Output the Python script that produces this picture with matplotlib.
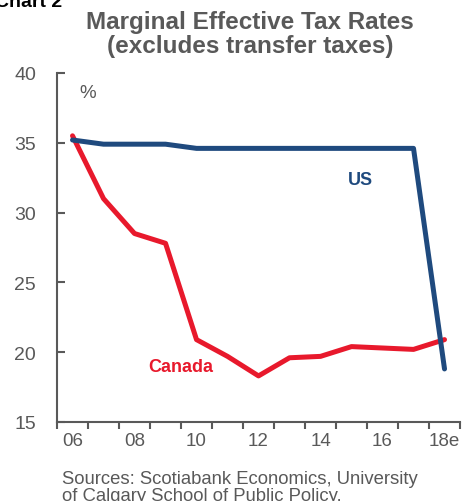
import matplotlib

matplotlib.use("Agg")
import matplotlib.pyplot as plt
import numpy as np

# Marginal effective tax rates, 2006-2018e (%)
years = ["06", "07", "08", "09", "10", "11", "12", "13", "14", "15", "16", "17", "18e"]
canada = [35.5, 31.0, 28.5, 27.8, 20.9, 19.7, 18.3, 19.6, 19.7, 20.4, 20.3, 20.2, 20.9]
us = [35.2, 34.9, 34.9, 34.9, 34.6, 34.6, 34.6, 34.6, 34.6, 34.6, 34.6, 34.6, 18.8]

RED = "#E8192C"
NAVY = "#1F4A7E"
GREY = "#595959"

plt.rcParams["font.family"] = ["Liberation Sans", "DejaVu Sans"]

fig = plt.figure(figsize=(4.74, 5.02), dpi=100)
ax = fig.add_axes([0.1203, 0.1574, 0.8502, 0.6952])

x = np.arange(len(years))
ax.plot(x, canada, color=RED, lw=3.6, solid_capstyle="round", solid_joinstyle="round")
ax.plot(x, us, color=NAVY, lw=3.6, solid_capstyle="round", solid_joinstyle="round")

ax.set_xlim(-0.5, len(years) - 0.5)
ax.set_ylim(15, 40)

# category axis: tick marks on the boundaries, labels on every other year
ax.set_xticks(np.arange(-0.5, len(years)), minor=True)
ax.set_xticks(x[::2])
ax.set_xticklabels(years[::2])
ax.tick_params(axis="x", which="major", length=0, pad=7, labelsize=13.5, labelcolor=GREY)
ax.tick_params(axis="x", which="minor", direction="out", length=5, width=1.5, color=GREY)
ax.set_yticks(np.arange(15, 41, 5))
ax.tick_params(axis="y", direction="in", length=6, width=1.5, color=GREY,
               labelsize=14, labelcolor=GREY, pad=15)

for side in ("top", "right"):
    ax.spines[side].set_visible(False)
for side in ("left", "bottom"):
    ax.spines[side].set_color(GREY)
    ax.spines[side].set_linewidth(1.5)

ax.text(0.5, 38.6, "%", fontsize=13.5, color=GREY, ha="center", va="center")
ax.text(9.3, 32.4, "US", fontsize=13, fontweight="bold", color=NAVY, ha="center", va="center")
ax.text(3.5, 18.95, "Canada", fontsize=13, fontweight="bold", color=RED, ha="center", va="center")

fig.text(0.527, 1 - 11 / 502, "Marginal Effective Tax Rates\n(excludes transfer taxes)",
         ha="center", va="top", fontsize=17.5, fontweight="bold", color=GREY, linespacing=1.05)
fig.text(-0.01, 1 - 7 / 502, "Chart 2", ha="left", va="baseline", fontsize=14,
         fontweight="bold", color="black")
fig.text(62 / 474, 1 - 501 / 502, "Sources: Scotiabank Economics, University\nof Calgary School of Public Policy.",
         ha="left", va="baseline", fontsize=13.3, color=GREY, linespacing=1.03)

fig.savefig("out.png", dpi=100)
